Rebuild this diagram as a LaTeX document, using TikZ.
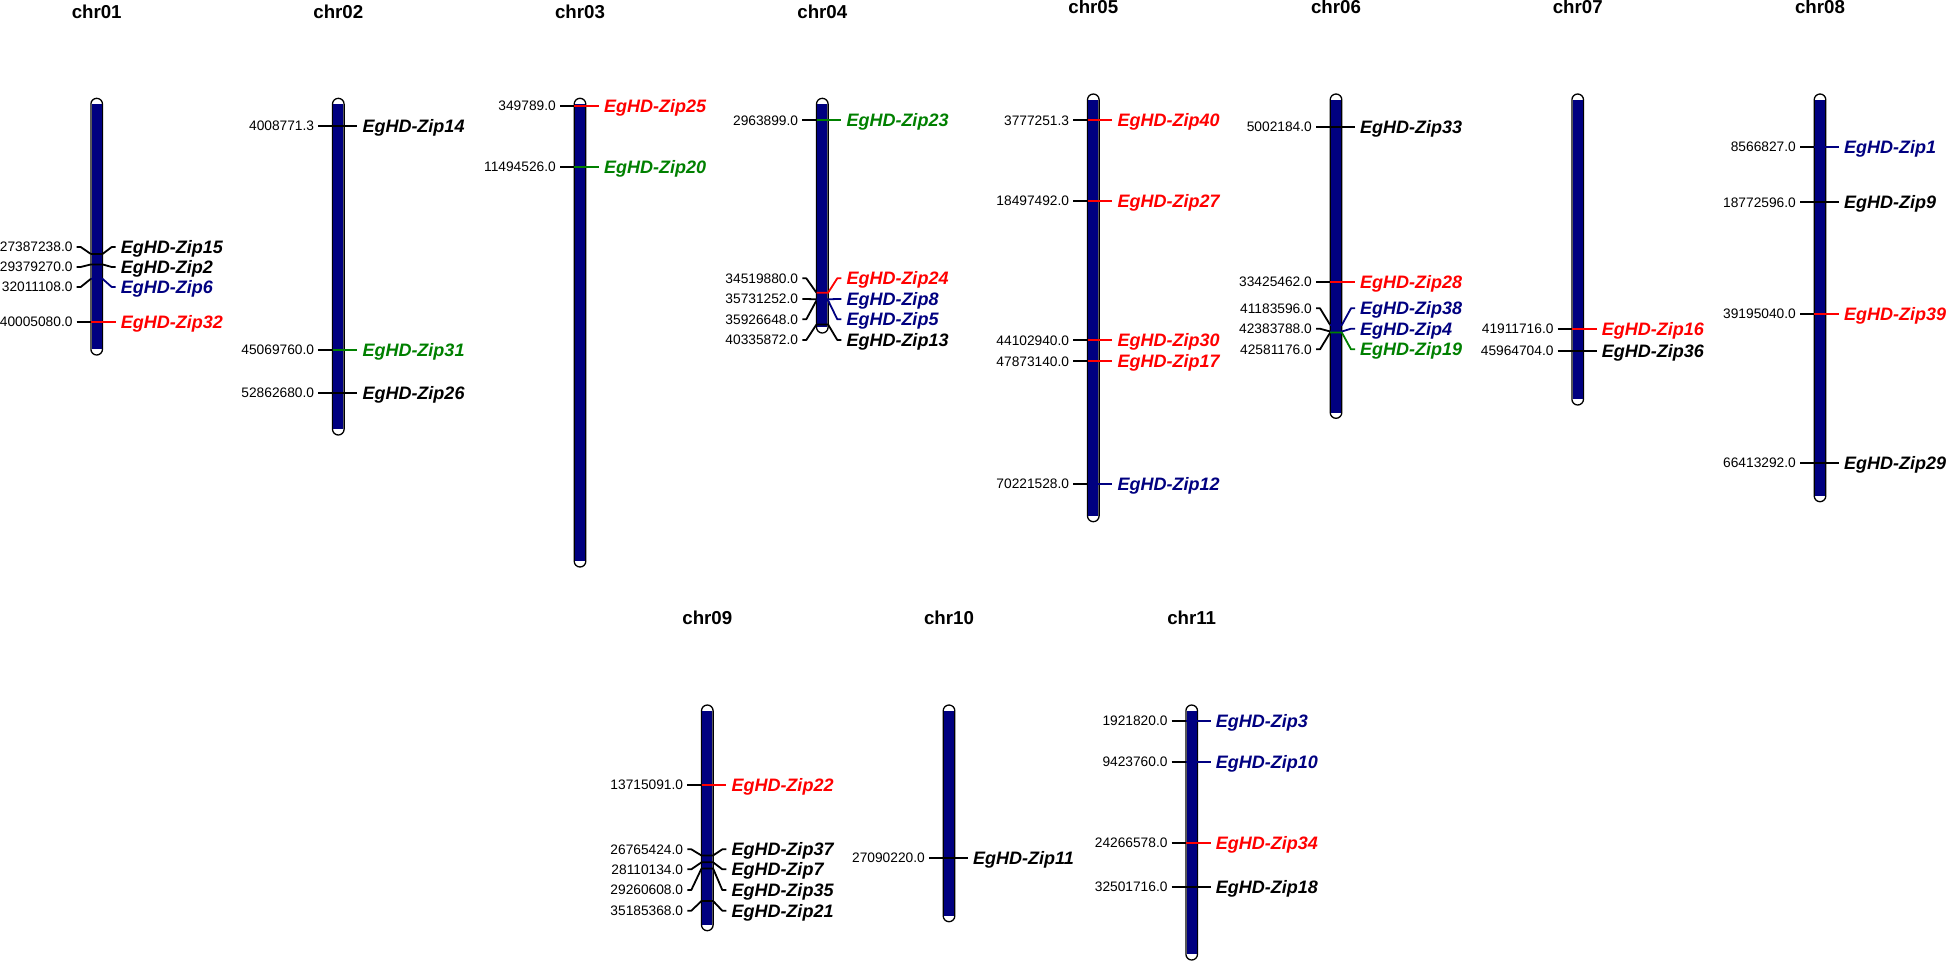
\documentclass[tikz,border=0pt]{standalone}
\usepackage{fontspec}
\setmainfont{Liberation Sans}
\definecolor{navyc}{RGB}{0,0,128}
\definecolor{redc}{RGB}{255,0,0}
\definecolor{greenc}{RGB}{0,128,0}
\tikzset{
 numlbl/.style={font=\fontsize{13.75}{15}\selectfont, inner sep=0pt, anchor=base east},
 genelbl/.style={font=\fontsize{18}{20}\selectfont\bfseries\itshape, inner sep=0pt, anchor=base west},
 chrtitle/.style={font=\fontsize{18.7}{20}\selectfont\bfseries, inner sep=0pt, anchor=base},
 tickln/.style={line width=1.8pt, line join=round},
 chrout/.style={line width=1.3pt, draw=black, fill=white, rounded corners=5.8pt},
}
\newcommand\chrom[5]{%
 \node[chrtitle] (t#1) at (#2,#5) {#1};
 \draw[chrout] (#2-5.8,#3) rectangle (#2+5.8,#4);
 \fill[navyc] (#2-5.1,#3+5.8) rectangle (#2+5.1,#4-5.8);
}
\newcommand\mk[7]{%
 \node[numlbl] (n#1) at (#2-24,#4+4.9) {#5};
 \node[genelbl, text=#7] (g#1) at (#2+24,#4+6.4) {EgHD-Zip#6};
 \draw[tickln] (#2-20,#4) -- (#2-16,#4) -- (#2-5.8,#3);
 \draw[tickln, draw=#7] (#2-5.8,#3) -- (#2+5.8,#3) -- (#2+15,#4) -- (#2+19,#4);
}
\begin{document}
\begin{tikzpicture}[x=1pt,y=-1pt]
\useasboundingbox (0,0) rectangle (1946,962);
\chrom{chr01}{96.7}{98.3}{355}{18.3}
\chrom{chr02}{338.3}{98.3}{435}{18.3}
\chrom{chr03}{580}{98.3}{567}{18.3}
\chrom{chr04}{822.3}{98.3}{333}{18.3}
\chrom{chr05}{1093.3}{94}{521.7}{13.8}
\chrom{chr06}{1336}{94}{418.3}{13.8}
\chrom{chr07}{1577.7}{94}{405}{13.8}
\chrom{chr08}{1820}{94}{501.7}{13.8}
\chrom{chr09}{707.3}{705}{930.7}{624.3}
\chrom{chr10}{949}{705}{921.7}{624.3}
\chrom{chr11}{1191.7}{705}{960}{624.3}
% chr01
\mk{15}{96.7}{254}{247}{27387238.0}{15}{black}
\mk{2}{96.7}{264.4}{267}{29379270.0}{2}{black}
\mk{6}{96.7}{278.8}{287}{32011108.0}{6}{navyc}
\mk{32}{96.7}{322}{322}{40005080.0}{32}{redc}
% chr02
\mk{14}{338.3}{125.7}{125.7}{4008771.3}{14}{black}
\mk{31}{338.3}{350}{350}{45069760.0}{31}{greenc}
\mk{26}{338.3}{392.7}{392.7}{52862680.0}{26}{black}
% chr03
\mk{25}{580}{106}{106}{349789.0}{25}{redc}
\mk{20}{580}{166.7}{166.7}{11494526.0}{20}{greenc}
% chr04
\mk{23}{822.3}{120.2}{120.2}{2963899.0}{23}{greenc}
\mk{24}{822.3}{292.7}{278.3}{34519880.0}{24}{redc}
\mk{8}{822.3}{299.3}{299}{35731252.0}{8}{navyc}
\mk{5}{822.3}{300.4}{319.3}{35926648.0}{5}{navyc}
\mk{13}{822.3}{324.5}{340}{40335872.0}{13}{black}
% chr05
\mk{40}{1093.3}{120.3}{120.3}{3777251.3}{40}{redc}
\mk{27}{1093.3}{200.7}{200.7}{18497492.0}{27}{redc}
\mk{30}{1093.3}{340.3}{340.3}{44102940.0}{30}{redc}
\mk{17}{1093.3}{361.3}{361.3}{47873140.0}{17}{redc}
\mk{12}{1093.3}{483.7}{483.7}{70221528.0}{12}{navyc}
% chr06
\mk{33}{1336}{127}{127}{5002184.0}{33}{black}
\mk{28}{1336}{281.7}{281.7}{33425462.0}{28}{redc}
\mk{38}{1336}{325}{308.3}{41183596.0}{38}{navyc}
\mk{4}{1336}{331.5}{328.7}{42383788.0}{4}{navyc}
\mk{19}{1336}{332.5}{349.3}{42581176.0}{19}{greenc}
% chr07
\mk{16}{1577.7}{328.8}{328.8}{41911716.0}{16}{redc}
\mk{36}{1577.7}{350.7}{350.7}{45964704.0}{36}{black}
% chr08
\mk{1}{1820}{146.7}{146.7}{8566827.0}{1}{navyc}
\mk{9}{1820}{202.3}{202.3}{18772596.0}{9}{black}
\mk{39}{1820}{314}{314}{39195040.0}{39}{redc}
\mk{29}{1820}{462.7}{462.7}{66413292.0}{29}{black}
% chr09
\mk{22}{707.3}{785}{785}{13715091.0}{22}{redc}
\mk{37}{707.3}{855.5}{849.3}{26765424.0}{37}{black}
\mk{7}{707.3}{862.3}{869.3}{28110134.0}{7}{black}
\mk{35}{707.3}{868.5}{890}{29260608.0}{35}{black}
\mk{21}{707.3}{901}{910.7}{35185368.0}{21}{black}
% chr10
\mk{11}{949}{858}{858}{27090220.0}{11}{black}
% chr11
\mk{3}{1191.7}{721}{721}{1921820.0}{3}{navyc}
\mk{10}{1191.7}{761.8}{761.8}{9423760.0}{10}{navyc}
\mk{34}{1191.7}{843}{843}{24266578.0}{34}{redc}
\mk{18}{1191.7}{887}{887}{32501716.0}{18}{black}
\end{tikzpicture}
\end{document}
